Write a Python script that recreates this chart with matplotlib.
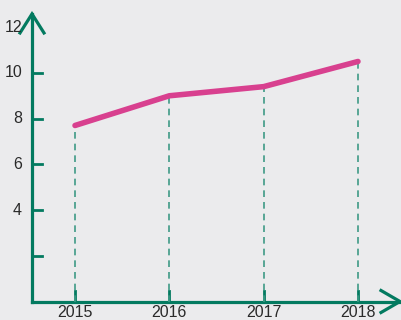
import matplotlib.pyplot as plt

years = [2015, 2016, 2017, 2018]
values = [7.7, 9.0, 9.4, 10.5]
ytick_pos = [2, 4, 6, 8, 10]
ylabel_vals = [4, 6, 8, 10, 12]

green = "#037a60"
dash_green = "#3f9a86"
pink = "#d8408f"
bg = "#ebebed"

plt.rcParams["font.family"] = ["Liberation Sans", "DejaVu Sans"]

fig = plt.figure(figsize=(4.01, 3.2), dpi=100, facecolor=bg)
ax = fig.add_axes([32 / 401, 18.5 / 320, 369 / 401, 301.5 / 320])
ax.set_facecolor(bg)
xmin, xmax = 2014.544, 2018.456
ax.set_xlim(xmin, xmax)
ax.set_ylim(0, 13.19)
ax.axis("off")

# pixel -> data scale
px_x = 1 / 94.33
px_y = 1 / 22.85

# axes with arrow heads
ytop = 12.58
ax.plot([xmin, xmin], [0, ytop], color=green, lw=2.3, clip_on=False, solid_capstyle="projecting")
ax.plot([xmin - 12 * px_x, xmin, xmin + 12 * px_x], [ytop - 19 * px_y, ytop, ytop - 19 * px_y],
        color=green, lw=2.3, clip_on=False, solid_joinstyle="miter")
xtip = xmax - 1 * px_x
ax.plot([xmin, xtip], [0, 0], color=green, lw=2.3, clip_on=False)
ax.plot([xtip - 19 * px_x, xtip, xtip - 19 * px_x], [11 * px_y, 0, -11 * px_y],
        color=green, lw=2.3, clip_on=False, solid_joinstyle="miter")

# y ticks and labels
for t in ytick_pos:
    ax.plot([xmin, xmin + 10 * px_x], [t, t], color=green, lw=2.0, clip_on=False)
for v in ylabel_vals:
    ax.text(xmin - 10 * px_x, v, str(v), ha="right", va="center", fontsize=11.5,
            color="#2a2a2a", clip_on=False)

# x ticks, dashed drop lines, labels
for yr, val in zip(years, values):
    ax.plot([yr, yr], [0, 10 * px_y], color=green, lw=2.0, clip_on=False)
    ax.plot([yr, yr], [0, val], color=dash_green, lw=1.2, ls=(0, (4, 3)))
    ax.text(yr, -11 * px_y, str(yr), ha="center", va="center", fontsize=11.5,
            color="#2a2a2a", clip_on=False)

ax.plot(years, values, color=pink, lw=4.0, solid_capstyle="round", zorder=5)

fig.savefig("out.png", dpi=100, facecolor=bg)
